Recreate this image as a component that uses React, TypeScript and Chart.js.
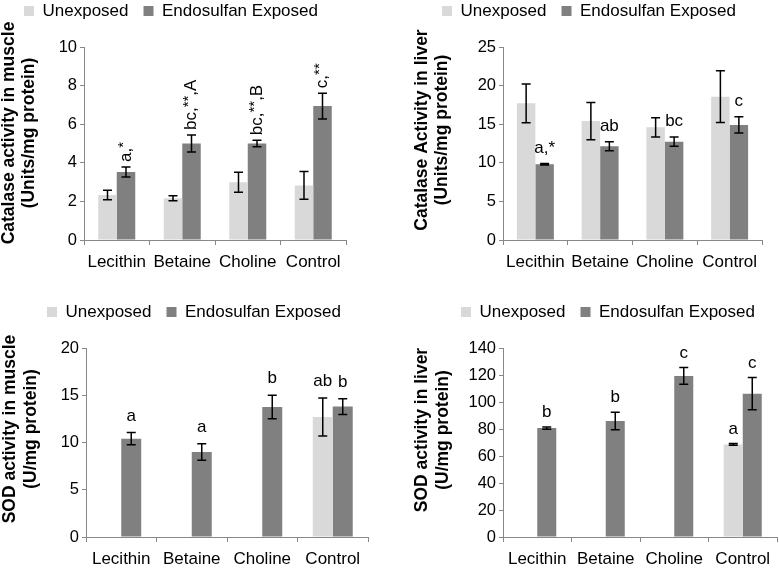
import React, { useEffect, useRef } from 'react';
import { Chart, registerables } from 'chart.js';

Chart.register(...registerables);

const FONT = "'Liberation Sans', Arial, Helvetica, sans-serif";

const categories = ['Lecithin', 'Betaine', 'Choline', 'Control'];
const seriesNames = ['Unexposed', 'Endosulfan Exposed'];
const unexposedColor = '#d9d9d9';
const exposedColor = '#808080';

// Catalase activity in muscle
const catMuscleUnexposed = [2.33, 2.16, 2.99, 2.83];
const catMuscleUnexposedErr = [0.25, 0.13, 0.52, 0.72];
const catMuscleExposed = [3.52, 5.0, 5.0, 6.94];
const catMuscleExposedErr = [0.26, 0.44, 0.17, 0.67];
const catMuscleUnexposedMarks = ['', '', '', ''];
const catMuscleExposedMarks = ['a,^*', 'bc,^**^,A', 'bc,^**^,B', 'c,^**'];
const catMuscleYMax = 10;
const catMuscleYStep = 2;

// Catalase activity in liver
const catLiverUnexposed = [17.7, 15.4, 14.6, 18.57];
const catLiverUnexposedErr = [2.5, 2.4, 1.25, 3.35];
const catLiverExposed = [9.8, 12.15, 12.74, 14.9];
const catLiverExposedErr = [0.1, 0.58, 0.6, 1.05];
const catLiverUnexposedMarks = ['', '', '', ''];
const catLiverExposedMarks = ['a,*', 'ab', 'bc', 'c'];
const catLiverYMax = 25;
const catLiverYStep = 5;

// SOD activity in muscle
const sodMuscleUnexposed = [null, null, null, 12.7];
const sodMuscleUnexposedErr = [0, 0, 0, 2.0];
const sodMuscleExposed = [10.4, 9.0, 13.76, 13.8];
const sodMuscleExposedErr = [0.65, 0.88, 1.25, 0.83];
const sodMuscleUnexposedMarks = ['', '', '', 'ab'];
const sodMuscleExposedMarks = ['a', 'a', 'b', 'b'];
const sodMuscleYMax = 20;
const sodMuscleYStep = 5;

// SOD activity in liver
const sodLiverUnexposed = [null, null, null, 68.6];
const sodLiverUnexposedErr = [0, 0, 0, 0.6];
const sodLiverExposed = [80.7, 85.9, 119.3, 106.2];
const sodLiverExposedErr = [0.8, 6.5, 6.2, 11.9];
const sodLiverUnexposedMarks = ['', '', '', 'a'];
const sodLiverExposedMarks = ['b', 'b', 'c', 'c'];
const sodLiverYMax = 140;
const sodLiverYStep = 20;

type PanelDef = {
  box: [number, number, number, number];
  area: { left: number; right: number; top: number; bottom: number };
  legendAt: [number, number];
  title: string[];
  titleAt: [number, number, number];
  yMax: number;
  yStep: number;
  unexposed: (number | null)[];
  unexposedErr: number[];
  exposed: (number | null)[];
  exposedErr: number[];
  unexposedMarks: string[];
  exposedMarks: string[];
  rotateMarks: boolean;
  markGap: number;
  catPct: number;
};

const panels: PanelDef[] = [
  {
    box: [0, 0, 390, 280],
    area: { left: 84, right: 346, top: 47, bottom: 240 },
    legendAt: [24, 11],
    title: ['Catalase activity in muscle', '(Units/mg protein)'],
    titleAt: [9, 20, 133],
    yMax: catMuscleYMax,
    yStep: catMuscleYStep,
    unexposed: catMuscleUnexposed,
    unexposedErr: catMuscleUnexposedErr,
    exposed: catMuscleExposed,
    exposedErr: catMuscleExposedErr,
    unexposedMarks: catMuscleUnexposedMarks,
    exposedMarks: catMuscleExposedMarks,
    rotateMarks: true,
    markGap: 5,
    catPct: 0.565,
  },
  {
    box: [390, 0, 389, 280],
    area: { left: 113, right: 372, top: 47, bottom: 240 },
    legendAt: [52, 11],
    title: ['Catalase Activity in liver', '(Units/mg protein)'],
    titleAt: [32, 20, 130],
    yMax: catLiverYMax,
    yStep: catLiverYStep,
    unexposed: catLiverUnexposed,
    unexposedErr: catLiverUnexposedErr,
    exposed: catLiverExposed,
    exposedErr: catLiverExposedErr,
    unexposedMarks: catLiverUnexposedMarks,
    exposedMarks: catLiverExposedMarks,
    rotateMarks: false,
    markGap: 11,
    catPct: 0.571,
  },
  {
    box: [0, 280, 390, 289],
    area: { left: 86, right: 368, top: 68, bottom: 257 },
    legendAt: [47, 32],
    title: ['SOD activity in muscle', '(U/mg protein)'],
    titleAt: [10, 21, 149],
    yMax: sodMuscleYMax,
    yStep: sodMuscleYStep,
    unexposed: sodMuscleUnexposed,
    unexposedErr: sodMuscleUnexposedErr,
    exposed: sodMuscleExposed,
    exposedErr: sodMuscleExposedErr,
    unexposedMarks: sodMuscleUnexposedMarks,
    exposedMarks: sodMuscleExposedMarks,
    rotateMarks: false,
    markGap: 12,
    catPct: 0.567,
  },
  {
    box: [390, 280, 389, 289],
    area: { left: 113, right: 387, top: 68, bottom: 257 },
    legendAt: [71, 32],
    title: ['SOD activity in liver', '(U/mg protein)'],
    titleAt: [32, 21, 150],
    yMax: sodLiverYMax,
    yStep: sodLiverYStep,
    unexposed: sodLiverUnexposed,
    unexposedErr: sodLiverUnexposedErr,
    exposed: sodLiverExposed,
    exposedErr: sodLiverExposedErr,
    unexposedMarks: sodLiverUnexposedMarks,
    exposedMarks: sodLiverExposedMarks,
    rotateMarks: false,
    markGap: 10,
    catPct: 0.555,
  },
];

function parseMark(s: string) {
  return s.split('^').map((text, i) => ({ text, sup: i % 2 === 1 })).filter((p) => p.text);
}

function Panel({ def }: { def: PanelDef }) {
  const ref = useRef<HTMLCanvasElement | null>(null);
  useEffect(() => {
    const canvas = ref.current!;
    const [, , W, H] = def.box;
    const { area } = def;
    const legendFontSize = 17;
    const legendPad = 15;
    const itemHeight = legendFontSize;

    const legendPlace = {
      id: 'legendPlace',
      beforeInit(chart: any) {
        const leg = chart.legend;
        const fit = leg.fit;
        leg.fit = function () {
          fit.call(this);
          this.height = area.top;
        };
      },
      afterLayout(chart: any) {
        const leg = chart.legend;
        leg.left = def.legendAt[0] - legendPad;
        leg.right = leg.left + 2000;
        leg.top = def.legendAt[1] - legendPad - itemHeight / 2;
      },
    };

    const errorsAndMarks = {
      id: 'errorsAndMarks',
      afterDatasetsDraw(chart: any) {
        const ctx = chart.ctx as CanvasRenderingContext2D;
        const y = chart.scales.y;
        const errs = [def.unexposedErr, def.exposedErr];
        const marks = [def.unexposedMarks, def.exposedMarks];
        chart.data.datasets.forEach((ds: any, di: number) => {
          const meta = chart.getDatasetMeta(di);
          meta.data.forEach((bar: any, i: number) => {
            const v = ds.data[i];
            if (v == null) return;
            const e = errs[di][i] || 0;
            const x = bar.x;
            const yt = y.getPixelForValue(v + e);
            const yb = y.getPixelForValue(v - e);
            ctx.save();
            ctx.strokeStyle = '#000';
            ctx.lineWidth = 1.5;
            ctx.beginPath();
            ctx.moveTo(x, yt);
            ctx.lineTo(x, yb);
            ctx.moveTo(x - 4.5, yt);
            ctx.lineTo(x + 4.5, yt);
            ctx.moveTo(x - 4.5, yb);
            ctx.lineTo(x + 4.5, yb);
            ctx.stroke();
            ctx.restore();

            const mark = marks[di][i];
            if (!mark) return;
            const parts = parseMark(mark);
            ctx.save();
            ctx.fillStyle = '#000';
            ctx.textBaseline = 'alphabetic';
            ctx.textAlign = 'left';
            const fontFor = (sup: boolean) => (sup ? `15px ${FONT}` : `17px ${FONT}`);
            if (def.rotateMarks) {
              ctx.translate(x, yt - def.markGap);
              ctx.rotate(-Math.PI / 2);
              let cx = 0;
              parts.forEach((p) => {
                ctx.font = fontFor(p.sup);
                ctx.fillText(p.text, cx, p.sup ? 1.5 : 4.5);
                cx += ctx.measureText(p.text).width;
              });
            } else {
              let total = 0;
              parts.forEach((p) => {
                ctx.font = fontFor(p.sup);
                total += ctx.measureText(p.text).width;
              });
              let cx = x - total / 2;
              const base = yt - def.markGap;
              parts.forEach((p) => {
                ctx.font = fontFor(p.sup);
                ctx.fillText(p.text, cx, p.sup ? base - 4 : base);
                cx += ctx.measureText(p.text).width;
              });
            }
            ctx.restore();
          });
        });
      },
    };

    const yTitle = {
      id: 'yTitle',
      afterDraw(chart: any) {
        const ctx = chart.ctx as CanvasRenderingContext2D;
        ctx.save();
        ctx.font = `bold 17.5px ${FONT}`;
        ctx.fillStyle = '#000';
        ctx.textAlign = 'center';
        ctx.textBaseline = 'middle';
        def.title.forEach((line, i) => {
          ctx.save();
          ctx.translate(def.titleAt[0] + i * def.titleAt[1], def.titleAt[2]);
          ctx.rotate(-Math.PI / 2);
          ctx.fillText(line, 0, 0);
          ctx.restore();
        });
        ctx.restore();
      },
    };

    const chart = new Chart(canvas, {
      type: 'bar',
      data: {
        labels: categories,
        datasets: [
          {
            label: seriesNames[0],
            data: def.unexposed,
            backgroundColor: unexposedColor,
            borderWidth: 0,
            categoryPercentage: def.catPct,
            barPercentage: 1,
          },
          {
            label: seriesNames[1],
            data: def.exposed,
            backgroundColor: exposedColor,
            borderWidth: 0,
            categoryPercentage: def.catPct,
            barPercentage: 1,
          },
        ],
      },
      options: {
        responsive: false,
        animation: false,
        devicePixelRatio: 1,
        layout: { padding: { left: 0, top: 0, bottom: 0, right: W - area.right } },
        plugins: {
          title: { display: false },
          tooltip: { enabled: false },
          legend: {
            display: true,
            position: 'top',
            align: 'start',
            labels: {
              boxWidth: 10,
              boxHeight: 10,
              padding: legendPad,
              color: '#000',
              font: { family: FONT, size: legendFontSize },
            },
          },
        },
        scales: {
          x: {
            grid: {
              display: true,
              drawOnChartArea: false,
              drawTicks: true,
              tickLength: 5,
              color: '#888',
              offset: true,
            },
            border: { display: true, color: '#888', width: 1 },
            ticks: {
              font: { family: FONT, size: 17 },
              color: '#000',
              padding: 7,
              maxRotation: 0,
              autoSkip: false,
            },
            afterFit: (s: any) => {
              s.height = H - area.bottom;
            },
          },
          y: {
            min: 0,
            max: def.yMax,
            grid: {
              display: true,
              drawOnChartArea: false,
              drawTicks: true,
              tickLength: 4,
              color: '#888',
            },
            border: { display: true, color: '#888', width: 1 },
            ticks: {
              stepSize: def.yStep,
              font: { family: FONT, size: 16.5 },
              color: '#000',
              padding: 3,
            },
            afterFit: (s: any) => {
              s.width = area.left;
            },
          },
        },
      } as any,
      plugins: [legendPlace, errorsAndMarks, yTitle],
    });
    return () => chart.destroy();
  }, [def]);

  const [L, T, W, H] = def.box;
  return (
    <div style={{ position: 'absolute', left: L, top: T, width: W, height: H }}>
      <canvas ref={ref} width={W} height={H} style={{ width: W, height: H, display: 'block' }} />
    </div>
  );
}

export default function App() {
  return (
    <div style={{ position: 'absolute', left: 0, top: 0, width: 779, height: 569, background: '#fff' }}>
      {panels.map((p, i) => (
        <Panel key={i} def={p} />
      ))}
    </div>
  );
}
